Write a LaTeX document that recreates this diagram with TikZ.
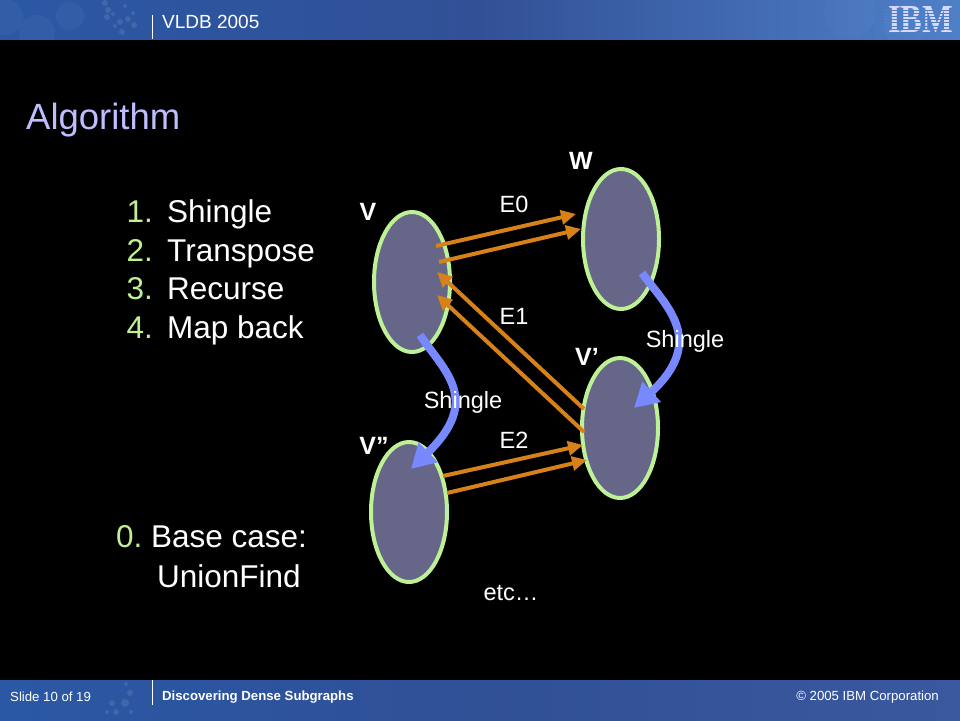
\documentclass[tikz,border=0pt]{standalone}
\usepackage{fontspec}
\setmainfont{Liberation Sans}
\newfontfamily\logofont{Liberation Serif}
\usetikzlibrary{arrows.meta,shadings,shapes.geometric}
\definecolor{barL}{RGB}{42,88,165}
\definecolor{barM}{RGB}{50,80,150}
\definecolor{barR}{RGB}{78,128,200}
\definecolor{botM}{RGB}{48,80,150}
\definecolor{botR}{RGB}{58,88,158}
\definecolor{blobfill}{RGB}{102,102,136}
\definecolor{blobline}{RGB}{190,240,150}
\definecolor{edgecol}{RGB}{214,130,24}
\definecolor{shinglecol}{RGB}{120,136,255}
\definecolor{titlecol}{RGB}{190,190,255}
\definecolor{numcol}{RGB}{190,240,150}
\tikzset{
  x=1pt,y=-1pt,
  blob/.style={ellipse,draw=blobline,fill=blobfill,line width=4pt,minimum width=76pt,minimum height=140pt,inner sep=0pt},
  edgearrow/.style={draw=edgecol,line width=4pt,-{Triangle[length=15pt,width=14pt]}},
  shinglearrow/.style={draw=shinglecol,line width=8pt,-{Triangle[length=24pt,width=26pt]}},
  lab/.style={text=white,font=\fontsize{23.5}{28}\selectfont,inner sep=0pt},
  vlab/.style={text=white,font=\fontsize{25}{30}\selectfont\bfseries,inner sep=0pt},
  listitem/.style={text=white,font=\fontsize{31.5}{37}\selectfont,anchor=base west,inner sep=0pt},
  listnum/.style={text=numcol,font=\fontsize{31.5}{37}\selectfont,anchor=base east,inner sep=0pt},
  barsep/.style={draw=white,line width=1pt},
  dot/.style={fill=white,fill opacity=0.10,draw=none},
  halo/.style={fill=white,fill opacity=0.04,draw=none},
  farhalo/.style={fill=white,fill opacity=0.02,draw=none},
}
\begin{document}
\begin{tikzpicture}
\useasboundingbox (0,0) rectangle (960,720);
\fill[black] (0,0) rectangle (960,720);
% header bar
\fill[left color=barL,right color=barM] (0,0) rectangle (480,39);
\fill[left color=barM,right color=barR] (480,0) rectangle (960,39);
\begin{scope}
\clip (0,0) rectangle (960,39);
\foreach \cx/\cy/\r in {5/17/18,37/33/18,70/16/14}{\fill[halo] (\cx,\cy) circle (\r);}
\foreach \cx/\cy/\r in {105/3/3,108/10/3,107/17/3,113/14/2,120/22/3,128/19/3,134/25/3,122/32/3,115/26/2,133/13/2,125/6/2}{\fill[dot] (\cx,\cy) circle (\r);}
\foreach \cx/\cy/\r in {850/12/26,905/25/22}{\fill[farhalo] (\cx,\cy) circle (\r);}
\end{scope}
\draw[barsep] (152.5,15) -- (152.5,39);
\node[text=white,font=\fontsize{19}{22}\selectfont,anchor=base west,inner sep=0pt] (conf) at (162,28) {VLDB 2005};
% IBM logo
\node[text=white!85!blue,anchor=center,inner sep=0pt] (ibm) at (920.5,20) {\resizebox{65pt}{26pt}{\logofont\bfseries IBM}};
\foreach \yy in {9.5,12.7,15.9,19.1,22.3,25.5,28.7,31.9}{\fill[barR] (884,\yy) rectangle (958,\yy+1);}
% footer bar
\fill[left color=barL,right color=botM] (0,680) rectangle (480,720);
\fill[left color=botM,right color=botR] (480,680) rectangle (960,720);
\foreach \cx/\cy/\r in {112/703/3,125/703/4,116/712/3,130/693/3,131/712/2,126/684/2,107/712/2}{\fill[dot] (\cx,\cy) circle (\r);}
\draw[barsep] (152.5,680) -- (152.5,705);
\node[text=white,font=\fontsize{13.2}{16}\selectfont,anchor=base west,inner sep=0pt] (slide) at (10,701) {Slide 10 of 19};
\node[text=white,font=\fontsize{13.2}{16}\selectfont\bfseries,anchor=base west,inner sep=0pt] (topic) at (162,700) {Discovering Dense Subgraphs};
\node[text=white,font=\fontsize{13.2}{16}\selectfont,anchor=base east,inner sep=0pt] (copy) at (939,700) {© 2005 IBM Corporation};
% title
\node[text=titlecol,font=\fontsize{36.5}{43}\selectfont,anchor=base west,inner sep=0pt] (title) at (26,129) {Algorithm};
% list
\node[listnum] (n1) at (153,222) {1.};
\node[listitem] (i1) at (167,222) {Shingle};
\node[listnum] (n2) at (153,261) {2.};
\node[listitem] (i2) at (167,261) {Transpose};
\node[listnum] (n3) at (153,299) {3.};
\node[listitem] (i3) at (167,299) {Recurse};
\node[listnum] (n4) at (153,338) {4.};
\node[listitem] (i4) at (167,338) {Map back};
\node[listnum,anchor=base west] (n0) at (116,547) {0.};
\node[listitem] (i0) at (151,547) {Base case:};
\node[listitem] (i0b) at (157,587) {UnionFind};
% blobs
\node[blob] (v) at (412,282) {};
\node[blob] (w) at (621,239) {};
\node[blob] (vp) at (620,428) {};
\node[blob] (vpp) at (409,512) {};
% vertex labels
\node[vlab] (lv) at (368,212) {V};
\node[vlab] (lw) at (581,161) {W};
\node[vlab] (lvp) at (587,357) {V’};
\node[vlab] (lvpp) at (374,446) {V”};
% edge labels
\node[lab] (e0) at (514,204) {E0};
\node[lab] (e1) at (514,316) {E1};
\node[lab] (e2) at (514,440) {E2};
\node[lab] (etc) at (511,593) {etc…};
% anchors
\coordinate (a1) at (436,246); \coordinate (b1) at (576,214);
\coordinate (a2) at (439,262); \coordinate (b2) at (581,229);
\coordinate (c1) at (584,409); \coordinate (d1) at (437,272);
\coordinate (c2) at (584,432); \coordinate (d2) at (437,295);
\coordinate (f1) at (443,476); \coordinate (g1) at (583,445);
\coordinate (f2) at (447,493); \coordinate (g2) at (587,460);
\coordinate (s1) at (420,335); \coordinate (t1) at (411,469);
\coordinate (s2) at (642,273); \coordinate (t2) at (634,408);
\draw[edgearrow] (a1) -- (b1);
\draw[edgearrow] (a2) -- (b2);
\draw[edgearrow] (c1) -- (d1);
\draw[edgearrow] (c2) -- (d2);
\draw[edgearrow] (f1) -- (g1);
\draw[edgearrow] (f2) -- (g2);
\draw[shinglearrow] (s1) .. controls (445,372) and (482,400) .. (t1);
\draw[shinglearrow] (s2) .. controls (665,305) and (708,340) .. (t2);
% shingle labels
\node[lab] (sh1) at (463,402.5) {Shingle};
\node[lab] (sh2) at (685,341.5) {Shingle};
\end{tikzpicture}
\end{document}
